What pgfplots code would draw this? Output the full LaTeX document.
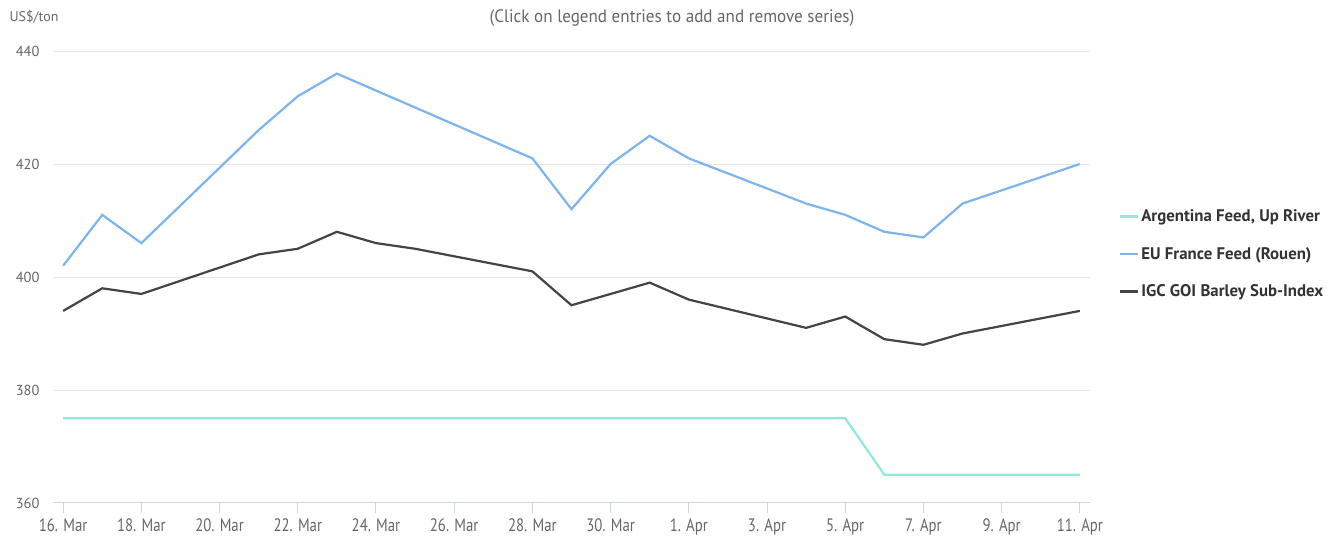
\documentclass[border=0pt]{standalone}
\usepackage{fontspec}
\setmainfont{PT Sans}
\newfontfamily\xfont{PT Sans}[FakeStretch=0.82]
\newfontfamily\titlefont{PT Sans}[FakeStretch=0.95]
\usepackage{pgfplots}
\pgfplotsset{compat=1.18}
\definecolor{argc}{HTML}{91E8E1}
\definecolor{euc}{HTML}{7CB5EC}
\definecolor{igcc}{HTML}{434348}
\definecolor{txt}{HTML}{666666}
\definecolor{leg}{HTML}{333333}
\definecolor{gridc}{HTML}{E6E6E6}
\definecolor{axc}{HTML}{CCD6EB}
\begin{document}
\begin{tikzpicture}[x=1pt,y=1pt]
\useasboundingbox (0,0) rectangle (1344,538);
\begin{axis}[
  at={(53pt,35pt)}, anchor=south west,
  scale only axis, width=1037pt, height=452pt,
  xmin=-0.26, xmax=26.26, ymin=360, ymax=440,
  xtick={0,2,...,26},
  xticklabels={16. Mar,18. Mar,20. Mar,22. Mar,24. Mar,26. Mar,28. Mar,30. Mar,1. Apr,3. Apr,5. Apr,7. Apr,9. Apr,11. Apr},
  ytick={360,380,400,420,440},
  ymajorgrids, major grid style={gridc, line width=1pt},
  axis x line*=bottom, axis y line*=left,
  y axis line style={draw=none},
  ytick style={draw=none},
  x axis line style={axc, line width=1pt, -},
  xtick style={axc, line width=1pt},
  major tick length=10pt,
  xtick align=outside,
  yticklabel style={font=\fontsize{14.5}{16}\selectfont, text=txt, xshift=-10pt},
  xticklabel style={font=\xfont\fontsize{18}{20}\selectfont, text=txt, yshift=-2pt},
  /pgf/number format/assume math mode=true,
  legend style={at={(1.025,0.551)}, anchor=west, draw=none, fill=none,
    font=\fontsize{16.8}{18}\selectfont\bfseries, text=leg,
    row sep=20pt, legend cell align=left,
    nodes={inner sep=2pt}},
  legend image code/.code={\draw[#1] (0pt,0pt) -- (18pt,0pt);},
  clip=false,
]
\addplot[argc, line width=2.2pt] coordinates {
 (0,375)(1,375)(2,375)(5,375)(6,375)(7,375)(8,375)(9,375)(12,375)(13,375)(14,375)(15,375)(16,375)(19,375)(20,375)(21,365)(22,365)(23,365)(26,365)};
\addlegendentry{Argentina Feed, Up River}
\addplot[euc, line width=2.2pt] coordinates {
 (0,402)(1,411)(2,406)(5,426)(6,432)(7,436)(12,421)(13,412)(14,420)(15,425)(16,421)(19,413)(20,411)(21,408)(22,407)(23,413)(26,420)};
\addlegendentry{EU France Feed (Rouen)}
\addplot[igcc, line width=2.2pt] coordinates {
 (0,394)(1,398)(2,397)(5,404)(6,405)(7,408)(8,406)(9,405)(12,401)(13,395)(14,397)(15,399)(16,396)(19,391)(20,393)(21,389)(22,388)(23,390)(26,394)};
\addlegendentry{IGC GOI Barley Sub-Index}
\end{axis}
\node[anchor=west, text=txt, font=\fontsize{14}{16}\selectfont] at (6,521) {US\$/ton};
\node[text=txt, font=\titlefont\fontsize{18}{20}\selectfont] at (672,520) {(Click on legend entries to add and remove series)};
\end{tikzpicture}
\end{document}
